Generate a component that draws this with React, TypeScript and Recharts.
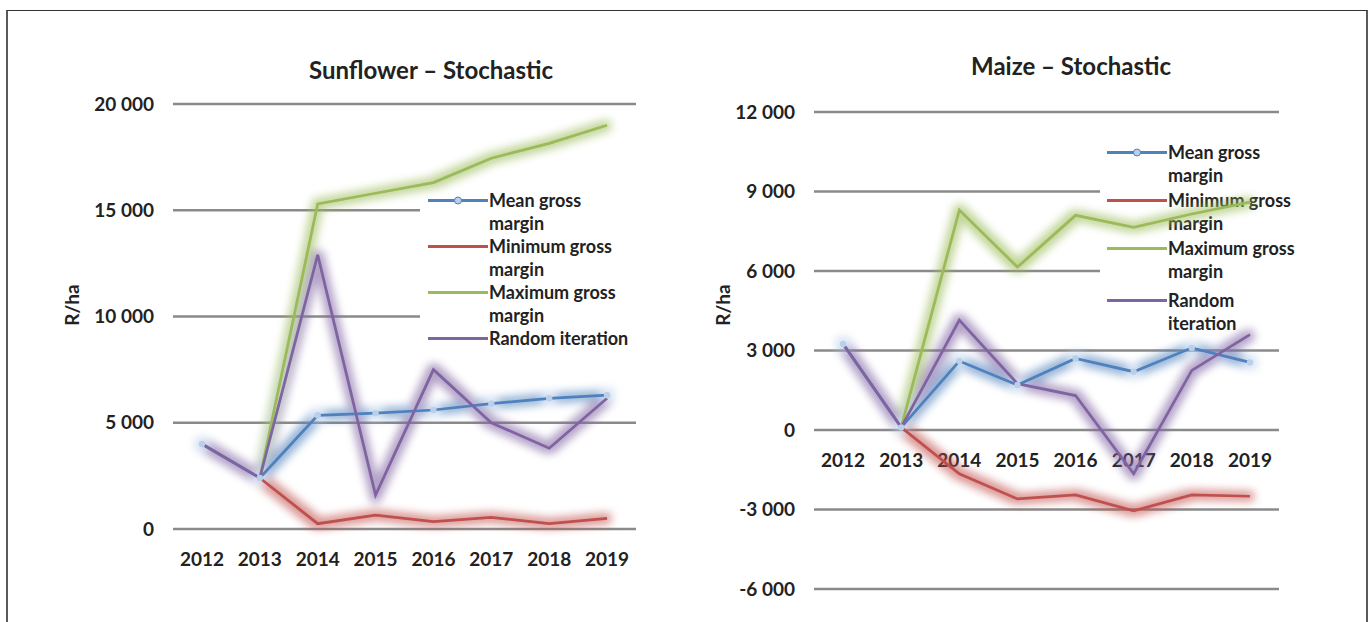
import React from 'react';
import { LineChart, Line, XAxis, YAxis, CartesianGrid } from 'recharts';

// ---- data ----
const years = ['2012', '2013', '2014', '2015', '2016', '2017', '2018', '2019'];

const sunflowerMean = [4000, 2400, 5350, 5450, 5600, 5900, 6150, 6300];
const sunflowerMin = [null, 2400, 250, 650, 350, 550, 250, 500];
const sunflowerMax = [null, 2400, 15300, 15800, 16300, 17450, 18150, 19000];
const sunflowerRandom = [4000, 2400, 12900, 1600, 7500, 5000, 3800, 6150];

const maizeMean = [3250, 100, 2600, 1700, 2700, 2200, 3100, 2550];
const maizeMin = [null, 100, -1650, -2600, -2450, -3050, -2450, -2500];
const maizeMax = [null, 100, 8300, 6150, 8100, 7650, 8150, 8600];
const maizeRandom = [3250, 100, 4150, 1750, 1300, -1650, 2250, 3600];

const sunflowerTicks = [0, 5000, 10000, 15000, 20000];
const maizeTicks = [-6000, -3000, 0, 3000, 6000, 9000, 12000];

const seriesKeys = ['mean', 'min', 'max', 'random'];
const seriesNames = ['Mean gross margin', 'Minimum gross margin', 'Maximum gross margin', 'Random iteration'];
const seriesColors = ['#4F81BD', '#C0504D', '#9BBB59', '#8064A2'];

// legend text broken the way each legend box wraps it
const sunflowerLegendText = ['Mean gross\nmargin', 'Minimum gross\nmargin', 'Maximum gross\nmargin', 'Random iteration'];
const maizeLegendText = ['Mean gross\nmargin', 'Minimum gross\nmargin', 'Maximum gross\nmargin', 'Random\niteration'];

const FONT = "Lato, 'Open Sans', sans-serif";
const TEXT_COLOR = '#222222';
const H = 622;
const Y_AXIS_W = 60;
const X_AXIS_H = 40;

function buildRows(mean: (number | null)[], min: (number | null)[], max: (number | null)[], rnd: (number | null)[]) {
  return years.map((year, i) => ({ year, mean: mean[i], min: min[i], max: max[i], random: rnd[i] }));
}

const formatThousands = (v: number) => {
  const sign = v < 0 ? '-' : '';
  const a = Math.abs(v);
  if (a < 1000) return sign + String(a);
  return `${sign}${Math.floor(a / 1000)} ${String(a % 1000).padStart(3, '0')}`;
};

type PanelProps = {
  left: number;
  width: number;
  plot: { left: number; right: number; top: number; bottom: number };
  rows: any[];
  ticks: number[];
  title: string;
  titleX: number;
  titleY: number;
  axisTitleX: number;
  axisTitleY: number;
  legendText: string[];
  legendBox: { left: number; top: number; width: number; height: number };
  legendLineX: number;
  legendFirstY: number;
  legendGaps: number[];
};

const MeanDot = (props: any) => {
  const { cx, cy } = props;
  if (cx == null || cy == null) return null;
  return <circle cx={cx} cy={cy} r={3.2} fill="#b9cfea" stroke="none" />;
};

function Panel(p: PanelProps) {
  const domain = [p.ticks[0], p.ticks[p.ticks.length - 1]];
  const zeroY = p.plot.top + ((p.plot.bottom - p.plot.top) * (domain[1] - 0)) / (domain[1] - domain[0]);
  const labelY = zeroY + 29;
  // categories sit in the middle of equal slots spanning the plot width
  const halfSlot = (p.plot.right - p.plot.left) / years.length / 2;

  const YearTick = (tp: any) => (
    <text
      x={tp.x}
      y={labelY}
      textAnchor="middle"
      dominantBaseline="central"
      fontFamily={FONT}
      fontWeight={700}
      fontSize={19}
      fill={TEXT_COLOR}
    >
      {tp.payload.value}
    </text>
  );

  return (
    <div style={{ position: 'absolute', left: p.left, top: 0, width: p.width, height: H }}>
      {/* axes and gridlines */}
      <div style={{ position: 'absolute', left: 0, top: 0 }}>
        <LineChart
          width={p.width}
          height={H}
          data={p.rows}
          margin={{
            top: p.plot.top,
            right: p.width - p.plot.right,
            left: p.plot.left - Y_AXIS_W,
            bottom: H - p.plot.bottom - X_AXIS_H,
          }}
        >
          <CartesianGrid vertical={false} stroke="#8a8a8a" strokeWidth={2.5} />
          <XAxis
            dataKey="year"
            height={X_AXIS_H}
            padding={{ left: halfSlot, right: halfSlot }}
            axisLine={false}
            tickLine={false}
            interval={0}
            tick={YearTick}
          />
          <YAxis
            width={Y_AXIS_W}
            type="number"
            domain={domain}
            allowDataOverflow
            ticks={p.ticks}
            interval={0}
            axisLine={false}
            tickLine={false}
            tickSize={0}
            tickMargin={19}
            tickFormatter={formatThousands}
            tick={{ fill: TEXT_COLOR, fontSize: 19, fontWeight: 700, fontFamily: FONT }}
          />
        </LineChart>
      </div>

      {/* title */}
      <div
        style={{
          position: 'absolute',
          left: p.titleX,
          top: p.titleY,
          transform: 'translate(-50%, -50%)',
          whiteSpace: 'nowrap',
          fontFamily: FONT,
          fontWeight: 700,
          fontSize: 24,
          color: TEXT_COLOR,
        }}
      >
        {p.title}
      </div>

      {/* value axis title */}
      <div
        style={{
          position: 'absolute',
          left: p.axisTitleX,
          top: p.axisTitleY,
          transform: 'translate(-50%, -50%) rotate(-90deg)',
          whiteSpace: 'nowrap',
          fontFamily: FONT,
          fontWeight: 700,
          fontSize: 19,
          color: TEXT_COLOR,
        }}
      >
        R/ha
      </div>

      {/* legend with white background, drawn below the series */}
      <div
        style={{
          position: 'absolute',
          left: p.legendBox.left,
          top: p.legendBox.top,
          width: p.legendBox.width,
          height: p.legendBox.height,
          background: '#ffffff',
        }}
      >
        {seriesNames.map((name, i) => {
          const rowY = p.legendFirstY + p.legendGaps.slice(0, i).reduce((a, b) => a + b, 0) - p.legendBox.top;
          const lx = p.legendLineX - p.legendBox.left;
          return (
            <div key={name} title={name} style={{ position: 'absolute', left: lx, top: rowY - 11.5 }}>
              <svg width={60} height={23} style={{ position: 'absolute', left: 0, top: 0 }}>
                <line x1={0} y1={11.5} x2={60} y2={11.5} stroke={seriesColors[i]} strokeWidth={3} />
                {i === 0 && <circle cx={30} cy={11.5} r={3.5} fill="#b9cfea" stroke={seriesColors[0]} strokeWidth={1} />}
              </svg>
              <div
                style={{
                  position: 'absolute',
                  left: 61,
                  top: 0,
                  whiteSpace: 'pre',
                  fontFamily: FONT,
                  fontWeight: 700,
                  fontSize: 18,
                  lineHeight: '23px',
                  color: TEXT_COLOR,
                }}
              >
                {p.legendText[i]}
              </div>
            </div>
          );
        })}
      </div>

      {/* series, on top of the legend box */}
      <div style={{ position: 'absolute', left: 0, top: 0, filter: 'url(#lineGlow)' }}>
        <LineChart
          width={p.width}
          height={H}
          data={p.rows}
          margin={{
            top: p.plot.top,
            right: p.width - p.plot.right,
            left: p.plot.left,
            bottom: H - p.plot.bottom,
          }}
        >
          <XAxis dataKey="year" hide padding={{ left: halfSlot, right: halfSlot }} />
          <YAxis hide type="number" domain={domain} allowDataOverflow ticks={p.ticks} />
          {seriesKeys.map((k, i) => (
            <Line
              key={k}
              dataKey={k}
              name={seriesNames[i]}
              stroke={seriesColors[i]}
              strokeWidth={2.75}
              dot={k === 'mean' ? <MeanDot /> : false}
              activeDot={false}
              isAnimationActive={false}
            />
          ))}
        </LineChart>
      </div>
    </div>
  );
}

export default function App() {
  const sunflowerRows = buildRows(sunflowerMean, sunflowerMin, sunflowerMax, sunflowerRandom);
  const maizeRows = buildRows(maizeMean, maizeMin, maizeMax, maizeRandom);

  return (
    <div
      style={{
        position: 'absolute',
        left: 0,
        top: 0,
        width: 1370,
        height: H,
        overflow: 'hidden',
        background: '#ffffff',
      }}
    >
      <svg width={0} height={0} style={{ position: 'absolute' }}>
        <defs>
          <filter id="lineGlow" x="-5%" y="-5%" width="110%" height="110%" colorInterpolationFilters="sRGB">
            <feMorphology in="SourceGraphic" operator="dilate" radius={4} result="wide" />
            <feGaussianBlur in="wide" stdDeviation={4} result="soft" />
            <feComponentTransfer in="soft" result="halo">
              <feFuncA type="linear" slope={0.6} />
            </feComponentTransfer>
            <feMerge>
              <feMergeNode in="halo" />
              <feMergeNode in="SourceGraphic" />
            </feMerge>
          </filter>
        </defs>
      </svg>

      {/* outer frame */}
      <div
        style={{
          position: 'absolute',
          left: 6,
          top: 10,
          width: 1362,
          height: 700,
          boxSizing: 'border-box',
          borderTop: '1.5px solid #333333',
          borderLeft: '2px solid #5a5a5a',
          borderRight: '2px solid #5a5a5a',
        }}
      />

      <Panel
        left={0}
        width={690}
        plot={{ left: 173, right: 636, top: 104, bottom: 529 }}
        rows={sunflowerRows}
        ticks={sunflowerTicks}
        title="Sunflower – Stochastic"
        titleX={431}
        titleY={69}
        axisTitleX={71}
        axisTitleY={305}
        legendText={sunflowerLegendText}
        legendBox={{ left: 420, top: 186, width: 222, height: 168 }}
        legendLineX={428}
        legendFirstY={200}
        legendGaps={[46, 46, 46]}
      />
      <Panel
        left={690}
        width={680}
        plot={{ left: 124, right: 589, top: 112, bottom: 589 }}
        rows={maizeRows}
        ticks={maizeTicks}
        title="Maize – Stochastic"
        titleX={381}
        titleY={65}
        axisTitleX={32}
        axisTitleY={305}
        legendText={maizeLegendText}
        legendBox={{ left: 410, top: 136, width: 210, height: 200 }}
        legendLineX={417}
        legendFirstY={152}
        legendGaps={[48, 48, 52]}
      />
    </div>
  );
}
